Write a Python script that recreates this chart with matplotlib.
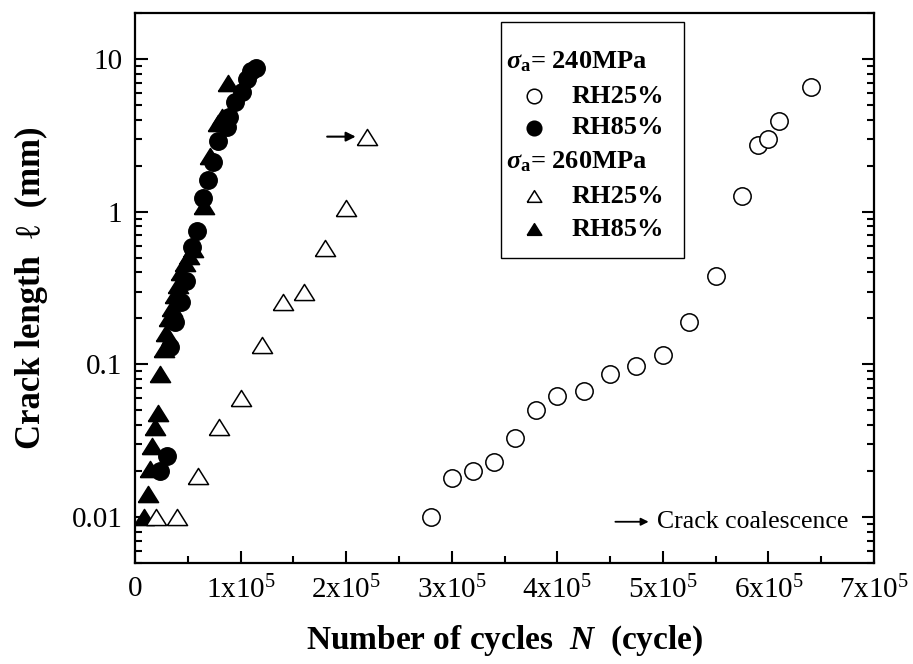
import matplotlib
matplotlib.use("Agg")
import matplotlib.pyplot as plt
from matplotlib.patches import Rectangle
from matplotlib.ticker import FixedLocator, LogLocator, MultipleLocator, NullFormatter

plt.rcParams["font.family"] = ["Liberation Serif", "DejaVu Serif"]
plt.rcParams["mathtext.fontset"] = "custom"
plt.rcParams["mathtext.rm"] = "Liberation Serif"
plt.rcParams["mathtext.it"] = "Liberation Serif:italic:bold"
plt.rcParams["mathtext.bf"] = "Liberation Serif:bold"

# sigma_a = 240 MPa, RH25%
n_240_rh25 = [2.8e5, 3.0e5, 3.2e5, 3.4e5, 3.6e5, 3.8e5, 4.0e5, 4.25e5, 4.5e5,
              4.75e5, 5.0e5, 5.25e5, 5.5e5, 5.75e5, 5.9e5, 6.0e5, 6.1e5, 6.4e5]
l_240_rh25 = [0.010, 0.018, 0.020, 0.023, 0.033, 0.050, 0.062, 0.067, 0.087,
              0.097, 0.115, 0.19, 0.38, 1.27, 2.75, 3.0, 3.9, 6.6]

# sigma_a = 240 MPa, RH85%
n_240_rh85 = [2.4e4, 3.0e4, 3.3e4, 3.8e4, 4.4e4, 4.8e4, 5.4e4, 5.9e4, 6.4e4,
              6.9e4, 7.4e4, 7.9e4, 8.7e4, 8.9e4, 9.5e4, 1.01e5, 1.06e5, 1.1e5, 1.15e5]
l_240_rh85 = [0.020, 0.025, 0.13, 0.19, 0.255, 0.35, 0.59, 0.75, 1.22,
              1.6, 2.1, 2.9, 3.6, 4.2, 5.2, 6.1, 7.4, 8.3, 8.7]

# sigma_a = 260 MPa, RH25%
n_260_rh25 = [2.0e4, 4.0e4, 6.0e4, 8.0e4, 1.0e5, 1.2e5, 1.4e5, 1.6e5, 1.8e5, 2.0e5, 2.2e5]
l_260_rh25 = [0.010, 0.010, 0.0186, 0.0386, 0.060, 0.133, 0.255, 0.30, 0.58, 1.05, 3.1]

# sigma_a = 260 MPa, RH85%
n_260_rh85 = [8.5e3, 1.2e4, 1.4e4, 1.65e4, 1.9e4, 2.2e4, 2.4e4, 2.7e4, 2.9e4, 3.2e4,
              3.5e4, 3.8e4, 4.1e4, 4.4e4, 4.7e4, 5.1e4, 5.5e4, 6.5e4, 7.1e4, 7.9e4,
              8.2e4, 8.8e4]
l_260_rh85 = [0.010, 0.0142, 0.0207, 0.029, 0.0386, 0.048, 0.086, 0.126, 0.16, 0.20,
              0.235, 0.284, 0.333, 0.40, 0.46, 0.51, 0.57, 1.09, 2.3, 3.8,
              4.2, 7.0]

x_ticks = [0, 1e5, 2e5, 3e5, 4e5, 5e5, 6e5, 7e5]
x_tick_labels = ["0"] + [r"$\mathrm{%dx10}^{5}$" % i for i in range(1, 8)]
y_ticks = [0.01, 0.1, 1, 10]
y_tick_labels = ["0.01", "0.1", "1", "10"]

# a slightly wide triangle
tri = [(-1.25, -1.0), (1.25, -1.0), (0.0, 1.0), (-1.25, -1.0)]

fig = plt.figure(figsize=(9.13, 6.64), dpi=100)
ax = fig.add_axes([0.1479, 0.1521, 0.8094, 0.8283])

ms = 12.5
mew = 1.1
ax.plot(n_260_rh85, l_260_rh85, marker=tri, ms=14.5, color="black", mec="black", mew=mew, ls="none")
ax.plot(n_240_rh85, l_240_rh85, "o", ms=ms, color="black", mec="black", mew=mew, ls="none")
ax.plot(n_260_rh25, l_260_rh25, marker=tri, ms=14.5, mfc="white", mec="black", mew=mew, ls="none")
ax.plot(n_240_rh25, l_240_rh25, "o", ms=ms, mfc="white", mec="black", mew=mew, ls="none")

# coalescence arrow pointing at the last open triangle
ax.annotate("", xy=(n_260_rh25[-1] - 1.1e4, l_260_rh25[-1]),
            xytext=(n_260_rh25[-1] - 3.8e4, l_260_rh25[-1]),
            arrowprops=dict(arrowstyle="-|>", color="black", lw=1.5,
                            mutation_scale=14, shrinkA=0, shrinkB=0))

ax.set_yscale("log")
ax.set_xlim(0, 7e5)
ax.set_ylim(0.005, 20)

ax.xaxis.set_major_locator(FixedLocator(x_ticks))
ax.set_xticklabels(x_tick_labels)
ax.xaxis.set_minor_locator(MultipleLocator(5e4))
ax.yaxis.set_major_locator(FixedLocator(y_ticks))
ax.set_yticklabels(y_tick_labels)
ax.yaxis.set_minor_locator(LogLocator(base=10, subs=range(2, 10)))
ax.yaxis.set_minor_formatter(NullFormatter())

ax.tick_params(which="both", direction="in", right=True, top=False, width=1.5, labelsize=21)
ax.tick_params(which="major", length=9, pad=9)
ax.tick_params(which="minor", length=5)
for sp in ax.spines.values():
    sp.set_linewidth(1.6)

ax.set_xlabel("Number of cycles  $N$  (cycle)", fontsize=24, fontweight="bold", labelpad=14)
ax.set_ylabel("Crack length  \u2113  (mm)", fontsize=25, fontweight="bold", labelpad=17)

# legend box drawn by hand
ax.add_patch(Rectangle((0.495, 0.555), 0.248, 0.429, transform=ax.transAxes,
                       fill=False, ec="black", lw=1.0, zorder=5))
rows = [0.911, 0.849, 0.791, 0.729, 0.667, 0.607]
lfs = 19
ax.text(0.502, rows[0], r"$\sigma_{\mathbf{a}}$= 240MPa", transform=ax.transAxes,
        fontsize=lfs, fontweight="bold", va="center", ha="left")
ax.text(0.502, rows[3], r"$\sigma_{\mathbf{a}}$= 260MPa", transform=ax.transAxes,
        fontsize=lfs, fontweight="bold", va="center", ha="left")
legend_items = [(rows[1], "o", "white", "RH25%"), (rows[2], "o", "black", "RH85%"),
                (rows[4], tri, "white", "RH25%"), (rows[5], tri, "black", "RH85%")]
for yy, mk, fc, lab in legend_items:
    ax.plot([0.540], [yy], marker=mk, ms=10.5, mfc=fc, mec="black", mew=1.1,
            ls="none", transform=ax.transAxes, clip_on=False)
    ax.text(0.591, yy, lab, transform=ax.transAxes, fontsize=lfs,
            fontweight="bold", va="center", ha="left")

ax.annotate("", xy=(0.695, 0.075), xytext=(0.650, 0.075), xycoords="axes fraction",
            arrowprops=dict(arrowstyle="-|>", color="black", lw=1.3,
                            mutation_scale=11, shrinkA=0, shrinkB=0))
ax.text(0.706, 0.075, "Crack coalescence", transform=ax.transAxes,
        fontsize=18.5, va="center", ha="left")

fig.savefig("out.png", dpi=100)
